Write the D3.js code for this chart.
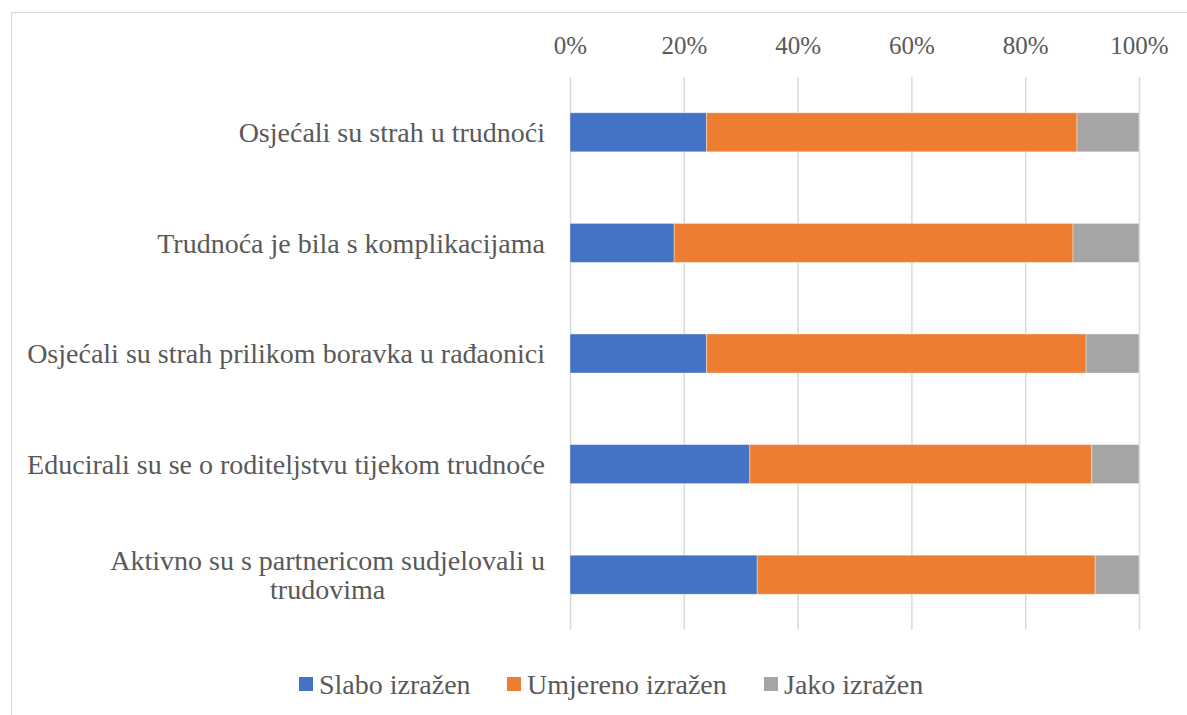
<!DOCTYPE html>
<html>
<head>
<meta charset="utf-8">
<script src="https://cdn.jsdelivr.net/npm/d3@7.9.0/dist/d3.min.js"></script>
<style>
  html, body { margin: 0; padding: 0; background: #fff; }
  svg { display: block; }
  text { font-family: "Liberation Serif", "DejaVu Serif", serif; }
</style>
</head>
<body>
<div id="chart"></div>
<script>
// categories, top to bottom
const categories = [
  "Osjećali su strah u trudnoći",
  "Trudnoća je bila s komplikacijama",
  "Osjećali su strah prilikom boravka u rađaonici",
  "Educirali su se o roditeljstvu tijekom trudnoće",
  "Aktivno su s partnericom sudjelovali u trudovima"
];
const seriesNames = ["Slabo izražen", "Umjereno izražen", "Jako izražen"];
// shares in percent
const slabo    = [24.0, 18.3, 24.0, 31.6, 32.9];
const umjereno = [65.1, 70.1, 66.7, 60.1, 59.4];
const jako     = [10.9, 11.6,  9.3,  8.3,  7.7];
const ticks = [0, 20, 40, 60, 80, 100];
const colors = ["#4472C4", "#ED7D31", "#A5A5A5"];

const width = 1187, height = 715;
const margin = { top: 77, right: 48, bottom: 85, left: 570 };

const svg = d3.select("#chart").append("svg")
  .attr("width", width)
  .attr("height", height);

// chart frame (runs off the right and bottom edges)
svg.append("rect")
  .attr("x", 11.5).attr("y", 12.5)
  .attr("width", 1200).attr("height", 720)
  .attr("fill", "none")
  .attr("stroke", "#d9d9d9")
  .attr("stroke-width", 1);

const x = d3.scaleLinear().domain([0, 100]).range([margin.left, width - margin.right]);
const y = d3.scaleBand().domain(categories)
  .range([margin.top, height - margin.bottom])
  .paddingInner(0.647).paddingOuter(0.3235);

// gridlines
svg.append("g")
  .attr("transform", `translate(0, ${height - margin.bottom})`)
  .call(d3.axisBottom(x).tickValues(ticks).tickFormat("").tickSize(-(height - margin.top - margin.bottom)))
  .call(g => g.select(".domain").remove())
  .call(g => g.selectAll("line").attr("stroke", "#d9d9d9").attr("stroke-width", 1.5));

// top axis labels
svg.append("g")
  .attr("transform", `translate(0, ${margin.top})`)
  .call(d3.axisTop(x).tickValues(ticks).tickFormat(d => d + "%").tickSize(0).tickPadding(23))
  .call(g => g.select(".domain").remove())
  .call(g => g.selectAll("text")
    .attr("font-family", null)
    .attr("font-size", 25)
    .attr("fill", "#595959"));

// stacked data
const rows = categories.map((c, i) => ({ cat: c, s0: slabo[i], s1: umjereno[i], s2: jako[i] }));
const stack = d3.stack().keys(["s0", "s1", "s2"]);
const layers = stack(rows);

svg.append("g").selectAll("g")
  .data(layers)
  .join("g")
  .attr("fill", (d, i) => colors[i])
  .selectAll("rect")
  .data(d => d)
  .join("rect")
  .attr("x", d => x(d[0]))
  .attr("y", d => y(d.data.cat))
  .attr("width", d => x(d[1]) - x(d[0]))
  .attr("height", y.bandwidth())
  .attr("stroke", "#ffffff")
  .attr("stroke-opacity", 0.5)
  .attr("stroke-width", 0.75);

// category labels, wrapped like the original
const labelLines = c => c === categories[4]
  ? ["Aktivno su s partnericom sudjelovali u", "trudovima"]
  : [c];

const labels = svg.append("g")
  .attr("font-size", 28)
  .attr("fill", "#595959");

categories.forEach(c => {
  const lines = labelLines(c);
  const cy = y(c) + y.bandwidth() / 2;
  const lh = 29;
  const t = labels.append("text")
    .attr("y", cy - (lines.length - 1) * lh / 2);
  if (lines.length === 1) {
    t.attr("x", 545).attr("dy", "0.35em").attr("text-anchor", "end").text(lines[0]);
  } else {
    // centre multi-line label on the first (widest) line, right edge at 545
    t.attr("text-anchor", "middle");
    lines.forEach((l, j) => {
      t.append("tspan").attr("x", 0).attr("dy", j === 0 ? "0.35em" : lh).text(l);
    });
    const w = t.node().getBBox().width;
    t.selectAll("tspan").attr("x", 545 - w / 2);
  }
});

// legend
const legend = svg.append("g")
  .attr("font-size", 28)
  .attr("fill", "#595959");
const legendX = [299, 507, 764];
seriesNames.forEach((n, i) => {
  legend.append("rect")
    .attr("x", legendX[i]).attr("y", 677)
    .attr("width", 14).attr("height", 14)
    .attr("fill", colors[i]);
  legend.append("text")
    .attr("x", legendX[i] + 20).attr("y", 684)
    .attr("dy", "0.35em")
    .text(n);
});
</script>
</body>
</html>
